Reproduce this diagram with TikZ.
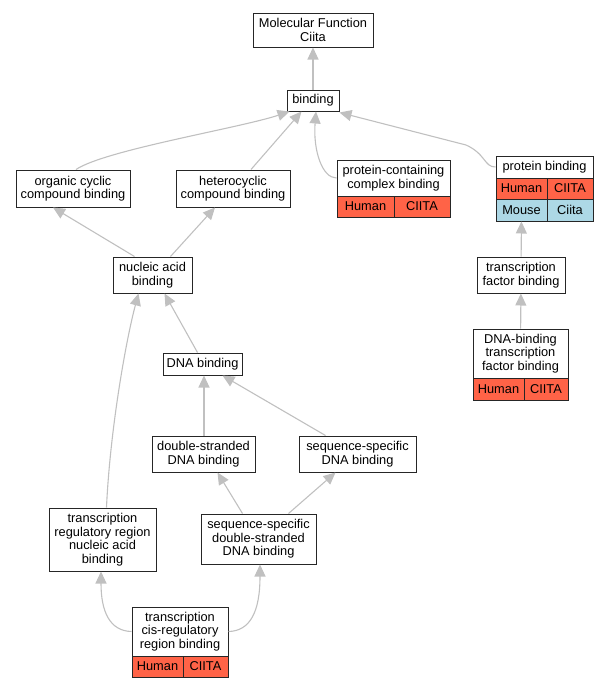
\documentclass[tikz,border=0pt]{standalone}
\usepackage{fontspec}
\setmainfont{Liberation Sans}
\usetikzlibrary{arrows.meta}
\definecolor{edgegray}{RGB}{192,192,192}
\definecolor{hum}{RGB}{255,99,71}
\definecolor{mou}{RGB}{173,216,230}
\begin{document}
\begin{tikzpicture}[x=1pt,y=-1pt,
  box/.style={draw=black!85, line width=1pt, fill=white, inner sep=0pt, align=center,
    font=\fontsize{12.8}{13.6}\selectfont},
  hcell/.style={box, fill=hum},
  mcell/.style={box, fill=mou},
  conn/.style={draw=edgegray, line width=1.1pt, -{Triangle[length=12pt,width=11pt]}, color=edgegray},
]
\useasboundingbox (0,0) rectangle (608,688);
% plain nodes
\node[box, minimum width=120, minimum height=34] (mf) at (313,30) {Molecular Function\\Ciita};
\node[box, minimum width=52, minimum height=21] (bind) at (313,100.5) {binding};
\node[box, minimum width=114, minimum height=37] (org) at (73,188.5) {organic cyclic\\compound binding};
\node[box, minimum width=114, minimum height=37] (het) at (233,188.5) {heterocyclic\\compound binding};
\node[box, minimum width=79, minimum height=36] (nuc) at (152.5,275) {nucleic acid\\binding};
\node[box, minimum width=88, minimum height=36] (tf) at (521,275) {transcription\\factor binding};
\node[box, minimum width=79, minimum height=22] (dna) at (202.5,364) {DNA binding};
\node[box, minimum width=103, minimum height=36] (ds) at (203.5,454) {double-stranded\\DNA binding};
\node[box, minimum width=117, minimum height=36] (ss) at (357.5,454) {sequence-specific\\DNA binding};
\node[box, minimum width=107, minimum height=63] (trr) at (102.5,539.5) {transcription\\regulatory region\\nucleic acid\\binding};
\node[box, minimum width=115, minimum height=50] (ssds) at (258.5,539) {sequence-specific\\double-stranded\\DNA binding};
% table: protein-containing complex binding
\node[box, minimum width=113, minimum height=36] (pc) at (393.5,178) {protein-containing\\complex binding};
\node[hcell, minimum width=57, minimum height=21] (pcH) at (365.5,206.5) {Human};
\node[hcell, minimum width=56, minimum height=21] (pcG) at (422,206.5) {CIITA};
% table: protein binding
\node[box, minimum width=97, minimum height=22] (pb) at (544.5,167) {protein binding};
\node[hcell, minimum width=51, minimum height=21] (pbH) at (521.5,188.5) {Human};
\node[hcell, minimum width=46, minimum height=21] (pbG) at (570,188.5) {CIITA};
\node[mcell, minimum width=51, minimum height=22] (pbM) at (521.5,210) {Mouse};
\node[mcell, minimum width=46, minimum height=22] (pbC) at (570,210) {Ciita};
% table: DNA-binding transcription factor binding
\node[box, minimum width=95, minimum height=49] (dtf) at (520.5,353.5) {DNA-binding\\transcription\\factor binding};
\node[hcell, minimum width=51, minimum height=22] (dtfH) at (498.5,389) {Human};
\node[hcell, minimum width=44, minimum height=22] (dtfG) at (546,389) {CIITA};
% table: transcription cis-regulatory region binding
\node[box, minimum width=96, minimum height=49] (cis) at (180,631.5) {transcription\\cis-regulatory\\region binding};
\node[hcell, minimum width=51, minimum height=21] (cisH) at (157.5,666.5) {Human};
\node[hcell, minimum width=45, minimum height=21] (cisG) at (205.5,666.5) {CIITA};
% connectors
\draw[conn] (bind) -- (mf);
\draw[conn] ([xshift=3pt]org.north) .. controls (105,150) and (240,128) .. ([xshift=3pt]bind.south west);
\draw[conn] ([xshift=18pt]het.north) -- ([xshift=15pt]bind.south west);
\draw[conn] (pc.west) .. controls (322,178) and (313,150) .. ([xshift=3pt]bind.south);
\draw[conn] (pb.west) .. controls (484,167) and (486,154) .. (466,145) -- ([yshift=-1pt]bind.south east);
\draw[conn] ([xshift=-18pt]nuc.north) -- ([xshift=-20pt]org.south);
\draw[conn] ([xshift=18pt]nuc.north) -- ([xshift=-18pt]het.south);
\draw[conn] ([xshift=-5pt]dna.north) -- ([xshift=12pt]nuc.south);
\draw[conn] ([xshift=4pt]trr.north) .. controls (110,430) and (126,340) .. ([xshift=-14pt]nuc.south);
\draw[conn] ([xshift=0.5pt]ds.north) -- ([xshift=1.5pt]dna.south);
\draw[conn] ([xshift=-32pt]ss.north) -- ([xshift=20pt]dna.south);
\draw[conn] ([xshift=-16pt]ssds.north) -- ([xshift=14pt]ds.south);
\draw[conn] ([xshift=30pt]ssds.north) -- ([xshift=-22pt]ss.south);
\draw[conn] (cis.west) .. controls (110,631) and (101,612) .. ([xshift=-1.5pt]trr.south);
\draw[conn] (cis.east) .. controls (250,631) and (260,612) .. ([xshift=1.5pt]ssds.south);
\draw[conn] (tf) -- (pbM);
\draw[conn] (dtf) -- (tf);
\end{tikzpicture}
\end{document}
